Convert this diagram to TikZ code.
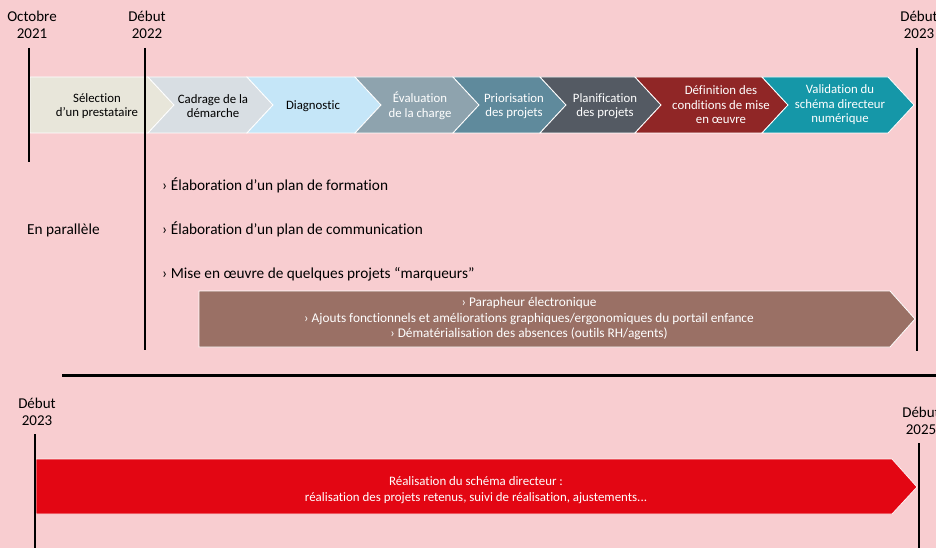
\documentclass[tikz,border=0pt]{standalone}
\usepackage{fontspec}
\setmainfont{Carlito}[Ligatures=NoCommon]
\definecolor{bg}{HTML}{F8CDD0}
\definecolor{cSel}{HTML}{E8E6DA}
\definecolor{cCad}{HTML}{D8DEE3}
\definecolor{cDia}{HTML}{C5E6F8}
\definecolor{cEva}{HTML}{8EA3AE}
\definecolor{cPri}{HTML}{5F8A9C}
\definecolor{cPla}{HTML}{545A63}
\definecolor{cDef}{HTML}{902626}
\definecolor{cVal}{HTML}{1597A8}
\definecolor{cBro}{HTML}{9A7065}
\definecolor{cRed}{HTML}{E30613}
\newcommand\chevshape[3]{%
  \fill[#3, draw=white, line width=0.8pt] (#1,77) -- (#2,77) -- (#2+26,105) -- (#2,133) -- (#1,133) -- (#1+26,105) -- cycle;}
\tikzset{
  datelbl/.style={align=center, font=\fontsize{15}{16.5}\selectfont, inner sep=0pt},
  chevtxt/.style={align=center, font=\fontsize{12.8}{14.5}\selectfont, inner sep=0pt},
  dark/.style={chevtxt, text=black},
  light/.style={chevtxt, text=white},
  bodytxt/.style={anchor=west, font=\fontsize{15.3}{17}\selectfont, inner sep=0pt},
  arrtxt/.style={align=center, text=white, inner sep=0pt},
  tickline/.style={line width=2.5pt},
}
\begin{document}
\begin{tikzpicture}[x=1pt,y=-1pt]
\useasboundingbox (0,0) rectangle (936,548);
\fill[bg] (0,0) rectangle (936,548);
% top strip
\fill[cSel, draw=white, line width=0.8pt] (30,77) -- (148,77) -- (174,105) -- (148,133) -- (30,133) -- cycle;
\chevshape{148}{247}{cCad}
\chevshape{247}{355}{cDia}
\chevshape{355}{453}{cEva}
\chevshape{453}{540}{cPri}
\chevshape{540}{635}{cPla}
\chevshape{635}{762}{cDef}
\chevshape{762}{888}{cVal}
\node[dark]  (sel) at (97,106)  {Sélection\\d’un prestataire};
\node[dark]  (cad) at (213,106) {Cadrage de la\\démarche};
\node[dark]  (dia) at (313,106) {Diagnostic};
\node[light] (eva) at (420,106) {Évaluation\\de la charge};
\node[light] (pri) at (514,106) {Priorisation\\des projets};
\node[light] (pla) at (605,106) {Planification\\des projets};
\node[light] (def) at (721,105) {Définition des\\conditions de mise\\en œuvre};
\node[light] (val) at (840,105) {Validation du\\schéma directeur\\numérique};
% brown arrow
\fill[cBro, draw=white, line width=0.8pt] (199,291) -- (890,291) -- (915,319) -- (890,347) -- (199,347) -- cycle;
\node[arrtxt, font=\fontsize{13.3}{15.5}\selectfont] (bro) at (529,319) {› Parapheur électronique\\› Ajouts fonctionnels et améliorations graphiques/ergonomiques du portail enfance\\› Dématérialisation des absences (outils RH/agents)};
% top timeline marks
\draw[tickline] (29,48) -- (29,162);
\draw[tickline] (145,48) -- (145,350);
\draw[tickline] (917,48) -- (917,351);
\node[datelbl] (d21) at (32,25) {Octobre\\2021};
\node[datelbl] (d22) at (147,25) {Début\\2022};
\node[datelbl] (d23a) at (919,25) {Début\\2023};
% parallel texts
\node[bodytxt] (par) at (27,230) {En parallèle};
\node[bodytxt] (t1) at (162,185) {› Élaboration d’un plan de formation};
\node[bodytxt] (t2) at (162,229) {› Élaboration d’un plan de communication};
\node[bodytxt] (t3) at (162,274) {› Mise en œuvre de quelques projets “marqueurs”};
% separator
\draw[line width=2.5pt] (62,375.5) -- (936,375.5);
% bottom
\fill[cRed, draw=white!70!bg, line width=0.8pt] (36,459) -- (892,459) -- (917,487) -- (892,514) -- (36,514) -- cycle;
\node[arrtxt, font=\fontsize{12.9}{16}\selectfont] (red) at (476,490) {Réalisation du schéma directeur :\\réalisation des projets retenus, suivi de réalisation, ajustements...};
\draw[tickline] (35,434) -- (35,548);
\draw[line width=2pt] (919,443) -- (919,548);
\node[datelbl] (d23b) at (37,412) {Début\\2023};
\node[datelbl] (d25) at (921,421) {Début\\2025};
\end{tikzpicture}
\end{document}
